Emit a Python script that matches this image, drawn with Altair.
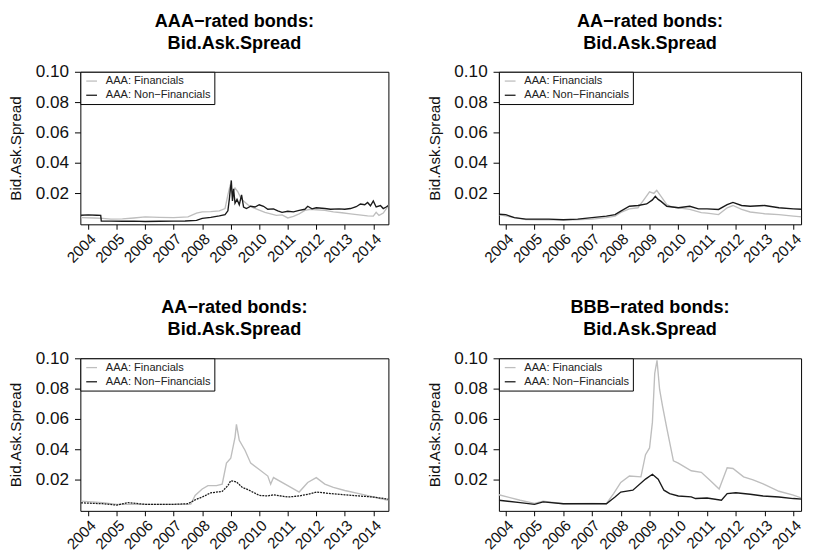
import altair as alt
import pandas as pd

FIN = "AAA: Financials"
NON = "AAA: Non\u2212Financials"

TITLES = [
    ["AAA\u2212rated bonds:", "Bid.Ask.Spread"],
    ["AA\u2212rated bonds:", "Bid.Ask.Spread"],
    ["AA\u2212rated bonds:", "Bid.Ask.Spread"],
    ["BBB\u2212rated bonds:", "Bid.Ask.Spread"],
]
YEARS = list(range(2004, 2015))
Y_TICKS = [0.02, 0.04, 0.06, 0.08, 0.10]

# ---------------- Panel 1 (AAA) ----------------
p1_fin_t = [2003.75, 2004.2, 2004.5, 2004.8, 2005.2, 2005.6, 2006.0, 2006.5, 2007.0, 2007.5,
            2007.8, 2008.0, 2008.3, 2008.6, 2008.8, 2008.9, 2008.97, 2009.05, 2009.15, 2009.25,
            2009.35, 2009.45, 2009.6, 2009.8, 2010.0, 2010.2, 2010.4, 2010.6, 2010.8, 2011.0,
            2011.2, 2011.4, 2011.6, 2011.8, 2012.0, 2012.3, 2012.6, 2012.9, 2013.2, 2013.5,
            2013.8, 2014.0, 2014.1, 2014.2, 2014.35, 2014.5, 2014.53]
p1_fin_v = [0.0040, 0.0038, 0.0035, 0.0030, 0.0032, 0.0038, 0.0045, 0.0042, 0.0040, 0.0045,
            0.0070, 0.0078, 0.0080, 0.0085, 0.0100, 0.0190, 0.0245, 0.0200, 0.0235, 0.0210,
            0.0170, 0.0150, 0.0125, 0.0105, 0.0090, 0.0075, 0.0065, 0.0055, 0.0058, 0.0038,
            0.0048, 0.0065, 0.0088, 0.0095, 0.0092, 0.0088, 0.0078, 0.0072, 0.0065, 0.0058,
            0.0052, 0.0050, 0.0075, 0.0055, 0.0070, 0.0110, 0.0125]
p1_non_t = [2003.75, 2004.0, 2004.3, 2004.44, 2004.46, 2004.8, 2005.2, 2005.6, 2006.0, 2006.5,
            2007.0, 2007.4, 2007.8, 2008.0, 2008.3, 2008.6, 2008.8, 2008.9, 2008.95, 2009.02,
            2009.06, 2009.1, 2009.15, 2009.22, 2009.3, 2009.38, 2009.45, 2009.55, 2009.7, 2009.85,
            2010.0, 2010.15, 2010.3, 2010.5, 2010.65, 2010.8, 2011.0, 2011.2, 2011.4, 2011.6,
            2011.7, 2011.85, 2012.0, 2012.3, 2012.5, 2012.8, 2013.0, 2013.2, 2013.4, 2013.55,
            2013.7, 2013.8, 2013.9, 2014.0, 2014.1, 2014.25, 2014.35, 2014.45, 2014.53]
p1_non_v = [0.0056, 0.0058, 0.0056, 0.0055, 0.0018, 0.0017, 0.0016, 0.0017, 0.0015, 0.0016,
            0.0017, 0.0018, 0.0022, 0.0035, 0.0042, 0.0052, 0.0060, 0.0085, 0.0160, 0.0285,
            0.0150, 0.0230, 0.0135, 0.0160, 0.0125, 0.0190, 0.0110, 0.0100, 0.0115, 0.0110,
            0.0125, 0.0115, 0.0095, 0.0098, 0.0085, 0.0075, 0.0082, 0.0078, 0.0088, 0.0095,
            0.0115, 0.0098, 0.0105, 0.0100, 0.0095, 0.0098, 0.0095, 0.0100, 0.0112, 0.0130,
            0.0125, 0.0140, 0.0118, 0.0150, 0.0110, 0.0120, 0.0100, 0.0110, 0.0120]

# ---------------- Panel 2 (AA, top right) ----------------
p2_fin_t = [2003.76, 2004.3, 2004.7, 2005.2, 2005.8, 2006.4, 2007.0, 2007.5, 2007.8, 2008.0,
            2008.3, 2008.6, 2008.85, 2009.0, 2009.15, 2009.25, 2009.4, 2009.6, 2009.8, 2010.0,
            2010.4, 2010.8, 2011.0, 2011.4, 2011.7, 2011.9, 2012.2, 2012.5, 2013.0, 2013.5,
            2014.0, 2014.3]
p2_fin_v = [0.0060, 0.0040, 0.0027, 0.0026, 0.0026, 0.0025, 0.0030, 0.0040, 0.0050, 0.0075,
            0.0098, 0.0105, 0.0170, 0.0210, 0.0200, 0.0220, 0.0180, 0.0125, 0.0110, 0.0105,
            0.0094, 0.0073, 0.0070, 0.0060, 0.0105, 0.0120, 0.0094, 0.0077, 0.0066, 0.0060,
            0.0050, 0.0045]
p2_non_t = [2003.76, 2004.0, 2004.3, 2004.7, 2005.0, 2005.5, 2006.0, 2006.5, 2007.0, 2007.5,
            2007.8, 2008.0, 2008.3, 2008.6, 2008.9, 2009.1, 2009.2, 2009.3, 2009.4, 2009.6,
            2009.8, 2010.0, 2010.4, 2010.7, 2011.0, 2011.4, 2011.7, 2011.9, 2012.2, 2012.5,
            2013.0, 2013.5, 2014.0, 2014.3]
p2_non_v = [0.0062, 0.0060, 0.0040, 0.0030, 0.0030, 0.0030, 0.0026, 0.0030, 0.0040, 0.0050,
            0.0060, 0.0083, 0.0115, 0.0120, 0.0130, 0.0157, 0.0180, 0.0160, 0.0147, 0.0115,
            0.0110, 0.0105, 0.0115, 0.0098, 0.0098, 0.0094, 0.0125, 0.0140, 0.0120, 0.0115,
            0.0120, 0.0105, 0.0098, 0.0095]

# ---------------- Panel 3 (AA, bottom left) ----------------
p3_fin_t = [2003.75, 2004.5, 2005.0, 2006.0, 2007.0, 2007.6, 2007.75, 2008.0, 2008.2, 2008.5,
            2008.7, 2008.85, 2009.0, 2009.15, 2009.2, 2009.3, 2009.5, 2009.7, 2010.0, 2010.3,
            2010.4, 2010.5, 2011.0, 2011.4, 2011.7, 2012.0, 2012.3, 2012.6, 2013.0, 2013.5,
            2014.0, 2014.53]
p3_fin_v = [0.0060, 0.0050, 0.0039, 0.0039, 0.0039, 0.0040, 0.0098, 0.0140, 0.0162, 0.0162,
            0.0172, 0.0310, 0.0342, 0.0480, 0.0565, 0.0460, 0.0395, 0.0310, 0.0268, 0.0225,
            0.0172, 0.0215, 0.0162, 0.0120, 0.0183, 0.0215, 0.0172, 0.0151, 0.0130, 0.0110,
            0.0087, 0.0066]
p3_non_t = [2003.75, 2004.5, 2005.0, 2005.4, 2006.0, 2007.0, 2007.5, 2007.8, 2008.0, 2008.3,
            2008.7, 2008.9, 2009.0, 2009.2, 2009.4, 2009.6, 2010.0, 2010.3, 2010.5, 2011.0,
            2011.4, 2011.8, 2012.0, 2012.5, 2013.0, 2013.5, 2014.0, 2014.53]
p3_non_v = [0.0049, 0.0043, 0.0034, 0.0050, 0.0039, 0.0039, 0.0043, 0.0073, 0.0087, 0.0115,
            0.0124, 0.0162, 0.0194, 0.0187, 0.0151, 0.0136, 0.0098, 0.0094, 0.0102, 0.0087,
            0.0094, 0.0109, 0.0120, 0.0110, 0.0102, 0.0094, 0.0087, 0.0073]

# ---------------- Panel 4 (BBB) ----------------
p4_fin_t = [2003.76, 2004.5, 2005.0, 2005.3, 2006.0, 2007.0, 2007.5, 2007.75, 2008.0, 2008.3,
            2008.7, 2008.86, 2009.0, 2009.1, 2009.18, 2009.26, 2009.35, 2009.45, 2009.6, 2009.83,
            2010.0, 2010.45, 2010.8, 2011.1, 2011.42, 2011.7, 2011.9, 2012.27, 2012.6, 2012.95,
            2013.5, 2014.0, 2014.3]
p4_fin_v = [0.0102, 0.0066, 0.0045, 0.0060, 0.0043, 0.0045, 0.0043, 0.0110, 0.0183, 0.0225,
            0.0220, 0.0366, 0.0410, 0.0580, 0.0900, 0.0987, 0.0795, 0.0687, 0.0540, 0.0325,
            0.0310, 0.0260, 0.0250, 0.0197, 0.0140, 0.0280, 0.0275, 0.0220, 0.0200, 0.0173,
            0.0125, 0.0100, 0.0080]
p4_non_t = [2003.76, 2004.5, 2005.0, 2005.3, 2006.0, 2007.0, 2007.5, 2007.8, 2008.0, 2008.42,
            2008.86, 2009.1, 2009.3, 2009.5, 2009.7, 2010.0, 2010.45, 2010.6, 2011.0, 2011.5,
            2011.7, 2012.0, 2012.5, 2012.95, 2013.5, 2014.0, 2014.3]
p4_non_v = [0.0066, 0.0050, 0.0039, 0.0055, 0.0043, 0.0043, 0.0043, 0.0087, 0.0120, 0.0132,
            0.0205, 0.0237, 0.0205, 0.0132, 0.0110, 0.0094, 0.0088, 0.0077, 0.0081, 0.0066,
            0.0110, 0.0115, 0.0105, 0.0094, 0.0087, 0.0077, 0.0073]

FONT = "Liberation Sans"
Y_DOM = [-0.0004, 0.1]
LEFT_DOM = [2003.726, 2014.53]
RIGHT_DOM = [2003.762, 2014.27]


def panel(ft, fv, nt, nv, title, xdom, width, dashed=False):
    df = pd.DataFrame({
        "t": ft + nt,
        "v": fv + nv,
        "s": [FIN] * len(ft) + [NON] * len(nt),
    })
    color = alt.Color(
        "s:N",
        scale=alt.Scale(domain=[FIN, NON], range=["#BEBEBE", "#1a1a1a"]),
        legend=alt.Legend(
            title=None, orient="top-left", offset=0, padding=3,
            strokeColor="black", fillColor="white", cornerRadius=0,
            labelFont=FONT, labelFontSize=11.3, labelColor="#222222",
            symbolType="stroke", symbolSize=121, symbolStrokeWidth=1.3,
            symbolOffset=2, labelOffset=8, rowPadding=2.5,
        ),
    )
    x = alt.X("t:Q", scale=alt.Scale(domain=xdom, nice=False, zero=False),
              axis=alt.Axis(values=YEARS, format="d", labelAngle=-45, title=None,
                            labelPadding=2, labelFontSize=15.5, labelOverlap=False,
                            labelBound=False, tickSize=5))
    y = alt.Y("v:Q", scale=alt.Scale(domain=Y_DOM, nice=False, zero=False),
              axis=alt.Axis(values=Y_TICKS, format=".2f", title="Bid.Ask.Spread",
                            labelPadding=6, titlePadding=12, labelFontSize=17.5,
                            labelOverlap=False))
    base = alt.Chart(df)
    gray = base.transform_filter(alt.datum.s == FIN).mark_line(
        strokeWidth=1.4, clip=True).encode(x=x, y=y, color=color)
    if dashed:
        black = base.transform_filter(alt.datum.s == NON).mark_line(
            strokeWidth=1.3, clip=True, strokeDash=[2, 1]).encode(x=x, y=y, color=color)
    else:
        black = base.transform_filter(alt.datum.s == NON).mark_line(
            strokeWidth=1.4, clip=True).encode(x=x, y=y, color=color)
    return alt.layer(gray, black).properties(
        width=width, height=156,
        title=alt.TitleParams(title, font=FONT, fontSize=18.5, fontWeight="bold",
                              lineHeight=22.5, offset=11, anchor="middle", color="black"),
    )


c1 = panel(p1_fin_t, p1_fin_v, p1_non_t, p1_non_v, TITLES[0], LEFT_DOM, 315)
c2 = panel(p2_fin_t, p2_fin_v, p2_non_t, p2_non_v, TITLES[1], RIGHT_DOM, 309)
c3 = panel(p3_fin_t, p3_fin_v, p3_non_t, p3_non_v, TITLES[2], LEFT_DOM, 315, dashed=True)
c4 = panel(p4_fin_t, p4_fin_v, p4_non_t, p4_non_v, TITLES[3], RIGHT_DOM, 309)

row1 = alt.hconcat(c1, c2, spacing=38).resolve_scale(color="independent").resolve_legend(color="independent")
row2 = alt.hconcat(c3, c4, spacing=38).resolve_scale(color="independent").resolve_legend(color="independent")

chart = alt.vconcat(row1, row2, spacing=32).resolve_scale(
    color="independent").resolve_legend(color="independent").properties(
    padding={"top": -3, "left": 0, "right": 0, "bottom": 0}
).configure_view(
    stroke="black", strokeWidth=1
).configure_axis(
    domain=False, grid=False, tickColor="black", tickSize=6, tickWidth=1,
    labelFont=FONT, labelFontSize=15.5, labelColor="#111111",
    titleFont=FONT, titleFontSize=15.5, titleFontWeight="normal", titleColor="#111111",
)

chart.save("out.html", embed_options={"renderer": "svg", "actions": False})
